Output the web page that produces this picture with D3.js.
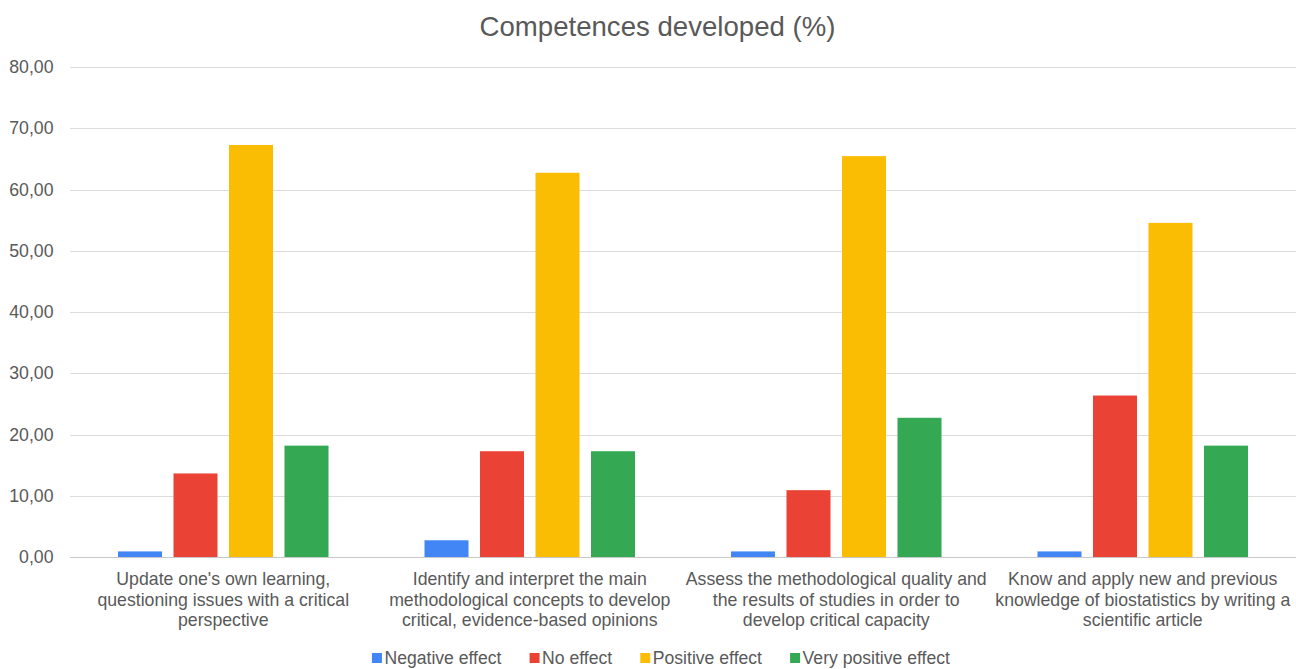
<!DOCTYPE html>
<html>
<head>
<meta charset="utf-8">
<script src="https://cdn.jsdelivr.net/npm/d3@7"></script>
<style>
  body { margin: 0; background: #fff; }
  svg { display: block; font-family: "Liberation Sans", Arial, sans-serif; }
</style>
</head>
<body>
<div id="chart"></div>
<script>
const width = 1296;
const height = 669;

// data
const categories = [
  ["Update one's own learning,", "questioning issues with a critical", "perspective"],
  ["Identify and interpret the main", "methodological concepts to develop", "critical, evidence-based opinions"],
  ["Assess the methodological quality and", "the results of studies in order to", "develop critical capacity"],
  ["Know and apply new and previous", "knowledge of biostatistics by writing a", "scientific article"]
];
const seriesNames = ['Negative effect', 'No effect', 'Positive effect', 'Very positive effect'];
const negative = [0.91, 2.73, 0.91, 0.91];
const noEffect = [13.64, 17.27, 10.91, 26.36];
const positive = [67.27, 62.73, 65.45, 54.55];
const veryPositive = [18.18, 17.27, 22.73, 18.18];
const yTicks = [0, 10, 20, 30, 40, 50, 60, 70, 80];
const colors = ['#4285f4', '#ea4335', '#fbbc04', '#34a853'];

const allSeries = [negative, noEffect, positive, veryPositive];
const rows = categories.map((c, i) => ({
  idx: i,
  values: allSeries.map((s, j) => ({ key: j, value: s[i] }))
}));

const margin = { top: 67, right: 0, bottom: 112, left: 70 };

const svg = d3.select('#chart')
  .append('svg')
  .attr('width', width)
  .attr('height', height);

const x0 = d3.scaleBand()
  .domain(d3.range(categories.length))
  .range([margin.left, width - margin.right])
  .paddingInner(0)
  .paddingOuter(0);

const x1 = d3.scaleBand()
  .domain(d3.range(seriesNames.length))
  .range([48, x0.bandwidth() - 48])
  .paddingInner(0.207);

const y = d3.scaleLinear()
  .domain([0, 80])
  .range([height - margin.bottom, margin.top]);

// title
svg.append('text')
  .attr('x', 657.5)
  .attr('y', 36)
  .attr('text-anchor', 'middle')
  .attr('font-size', 27.6)
  .attr('fill', '#595959')
  .text('Competences developed (%)');

// gridlines
svg.append('g')
  .selectAll('line')
  .data(yTicks)
  .join('line')
  .attr('x1', margin.left)
  .attr('x2', width - margin.right)
  .attr('y1', d => Math.round(y(d)) + 0.5)
  .attr('y2', d => Math.round(y(d)) + 0.5)
  .attr('stroke', d => d === 0 ? '#c8c8c8' : '#dcdcdc')
  .attr('stroke-width', 1);

// y labels
svg.append('g')
  .selectAll('text')
  .data(yTicks)
  .join('text')
  .attr('x', 53.5)
  .attr('y', d => y(d))
  .attr('dy', '0.35em')
  .attr('text-anchor', 'end')
  .attr('font-size', 17.7)
  .attr('fill', '#595959')
  .text(d => d3.format('.2f')(d).replace('.', ','));

// bars
const groups = svg.append('g')
  .selectAll('g')
  .data(rows)
  .join('g')
  .attr('transform', d => `translate(${x0(d.idx)},0)`);

groups.selectAll('rect')
  .data(d => d.values)
  .join('rect')
  .attr('x', d => x1(d.key))
  .attr('width', x1.bandwidth())
  .attr('y', d => y(d.value))
  .attr('height', d => y(0) - y(d.value))
  .attr('fill', d => colors[d.key]);

// category labels
const labels = svg.append('g')
  .selectAll('text')
  .data(categories)
  .join('text')
  .attr('x', (d, i) => x0(i) + x0.bandwidth() / 2)
  .attr('y', 585)
  .attr('text-anchor', 'middle')
  .attr('font-size', 17.7)
  .attr('fill', '#595959');

labels.selectAll('tspan')
  .data(d => d)
  .join('tspan')
  .attr('x', function () { return d3.select(this.parentNode).attr('x'); })
  .attr('dy', (d, i) => i === 0 ? 0 : 20.5)
  .text(d => d);

// legend
const legend = svg.append('g');
const items = legend.selectAll('g')
  .data(seriesNames)
  .join('g');

items.append('rect')
  .attr('width', 10)
  .attr('height', 10)
  .attr('y', 653)
  .attr('fill', (d, i) => colors[i]);

items.append('text')
  .attr('x', 12.5)
  .attr('y', 663.5)
  .attr('font-size', 17.6)
  .attr('fill', '#595959')
  .text(d => d);

let offset = 0;
const widths = [];
items.each(function () {
  widths.push(this.getBBox().width);
});
const gap = 28;
const total = d3.sum(widths) + gap * (widths.length - 1);
let startX = 661 - total / 2;
items.attr('transform', (d, i) => {
  const tx = startX + offset;
  offset += widths[i] + gap;
  return `translate(${tx},0)`;
});
</script>
</body>
</html>
